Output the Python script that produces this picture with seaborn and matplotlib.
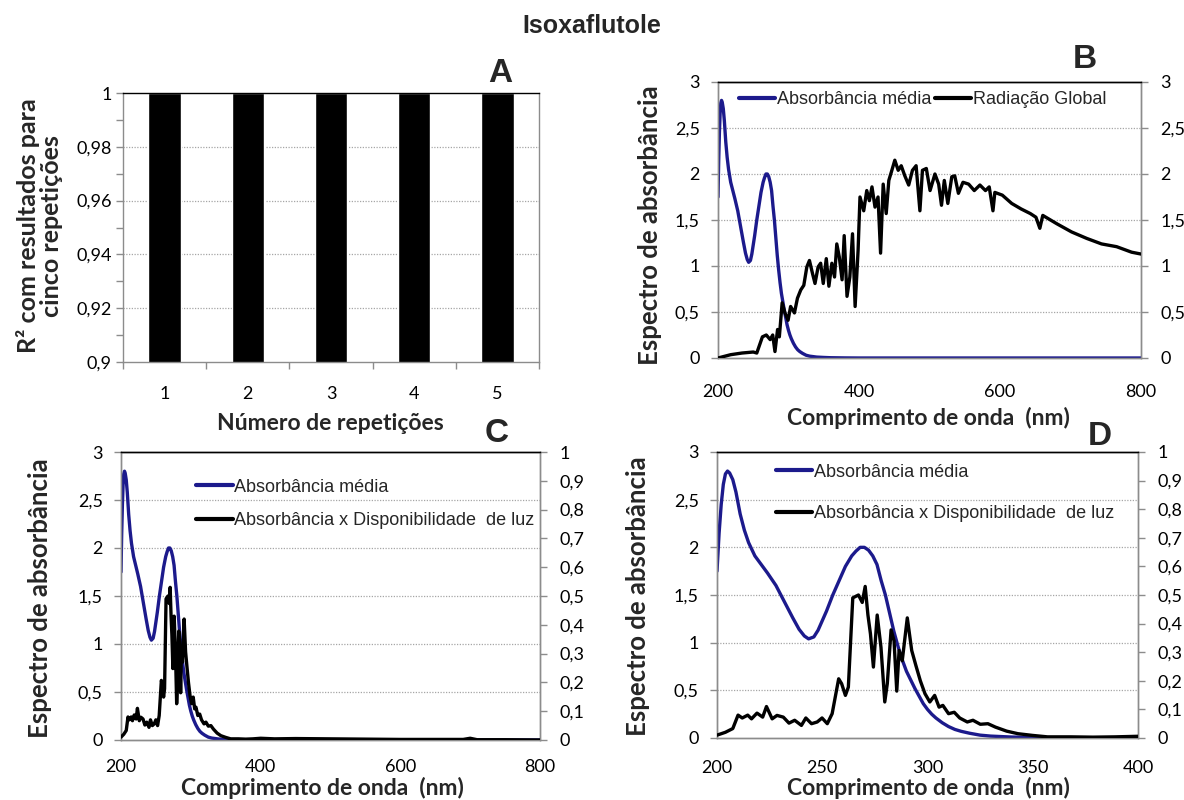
import numpy as np
import pandas as pd
import matplotlib
matplotlib.use("Agg")
import matplotlib.pyplot as plt
from matplotlib.ticker import FixedLocator, FuncFormatter, MultipleLocator
from matplotlib.lines import Line2D
import seaborn as sns

# ---------------- data ----------------
repeticoes = ["1", "2", "3", "4", "5"]
r2_valores = [1.0, 1.0, 1.0, 1.0, 1.0]

# mean absorbance spectrum (nm, absorbance)
abs_nm = [200, 201, 202, 203, 204, 205, 206, 207.5, 209, 211,
          213, 215, 218, 221, 224, 228, 232, 236, 239, 241.5,
          243.5, 246, 248, 250, 252, 255, 258, 261, 264, 266,
          268, 270, 272, 274, 276, 278, 280, 282, 284, 286,
          288, 290, 292, 294, 296, 298, 300, 302, 304, 307,
          310, 313, 316, 320, 325, 330, 340, 350, 360, 380,
          400, 500, 600, 700, 800]
abs_media = [1.75, 2.15, 2.45, 2.66, 2.77, 2.80, 2.78, 2.71, 2.58, 2.35,
             2.18, 2.05, 1.91, 1.82, 1.73, 1.60, 1.43, 1.26, 1.14, 1.07,
             1.04, 1.06, 1.13, 1.23, 1.33, 1.50, 1.65, 1.80, 1.91, 1.96,
             2.00, 2.00, 1.97, 1.91, 1.82, 1.65, 1.50, 1.31, 1.12, 0.96,
             0.82, 0.70, 0.61, 0.52, 0.44, 0.36, 0.30, 0.25, 0.21, 0.16,
             0.12, 0.09, 0.07, 0.05, 0.03, 0.02, 0.01, 0.006, 0.003, 0.001,
             0.0, 0.0, 0.0, 0.0, 0.0]

# global solar radiation (nm, relative irradiance)
rad_nm = [200, 218, 234, 250, 255, 263, 268.5, 274, 277.6, 280.8,
          284.5, 287, 291, 295, 299.4, 303, 308.4, 312.7, 317.4, 321.7,
          326, 329.7, 334, 337.6, 342, 345.6, 349.3, 353.6, 357.3, 361.5,
          365.3, 368.5, 372, 376, 379, 383, 387, 390.8, 394.5, 398.7,
          401.4, 406.7, 411, 414.7, 418.4, 422.7, 427, 430.6, 434.3, 438.6,
          442.3, 446.6, 450.8, 455.6, 459.9, 465, 470.5, 475.8, 481, 486.4,
          490, 495.5, 500.8, 507.7, 513, 517, 521, 526, 531.6, 535.8,
          541, 547.5, 555.5, 563.5, 571.5, 579.4, 584.7, 590, 592.7, 603.3,
          616.6, 630, 643, 651, 656.5, 660.7, 680.4, 701.6, 723, 744,
          765.4, 786.7, 800]
rad_global = [0.0, 0.036, 0.054, 0.065, 0.054, 0.23, 0.25, 0.20, 0.25, 0.07,
              0.31, 0.23, 0.60, 0.49, 0.41, 0.56, 0.49, 0.65, 0.74, 0.79,
              0.99, 1.06, 0.92, 0.81, 0.99, 1.03, 0.81, 1.08, 0.78, 1.03,
              0.88, 1.24, 1.10, 0.85, 1.33, 0.67, 0.88, 1.35, 0.56, 1.17,
              1.75, 1.60, 1.82, 1.71, 1.86, 1.64, 1.75, 1.14, 1.89, 1.57,
              1.93, 2.04, 2.15, 2.04, 2.09, 1.98, 1.88, 2.04, 2.09, 1.60,
              2.04, 2.06, 1.82, 2.00, 1.89, 1.66, 1.93, 1.68, 1.97, 1.98,
              1.79, 1.91, 1.89, 1.82, 1.88, 1.82, 1.86, 1.60, 1.80, 1.77,
              1.68, 1.62, 1.57, 1.53, 1.41, 1.55, 1.46, 1.37, 1.30, 1.24,
              1.21, 1.15, 1.13]

# absorbance weighted by light availability (nm, relative value)
prod_nm = [200, 204, 207.5, 210, 212, 214.6, 216.4, 219, 221.7, 223.5,
           226.2, 228.5, 231.5, 234.2, 236.9, 240.1, 242.2, 244.9, 247.6, 249.9,
           252.4, 254.7, 257.8, 259.2, 261, 262.4, 264.5, 267.2, 269, 270.4,
           271.7, 272.9, 274.3, 276.1, 277.9, 279.7, 280.9, 282.7, 284.1, 285.4,
           286.5, 288, 290.4, 292.5, 294.5, 296.6, 298.8, 301.1, 303.4, 305.5,
           307.3, 310, 312.7, 315.3, 318.9, 321.6, 325.1, 328.7, 332.3, 337.6,
           343, 350, 357, 368, 378.6, 389, 400, 420, 450, 500,
           550, 600, 650, 690, 700, 710, 750, 800]
prod_luz = [0.010, 0.020, 0.033, 0.080, 0.070, 0.080, 0.067, 0.087, 0.073, 0.110,
            0.067, 0.079, 0.073, 0.052, 0.062, 0.044, 0.070, 0.050, 0.056, 0.070,
            0.050, 0.085, 0.207, 0.190, 0.149, 0.178, 0.490, 0.500, 0.474, 0.530,
            0.430, 0.364, 0.248, 0.430, 0.317, 0.126, 0.190, 0.378, 0.340, 0.164,
            0.306, 0.270, 0.420, 0.306, 0.253, 0.200, 0.155, 0.126, 0.149, 0.108,
            0.114, 0.085, 0.090, 0.070, 0.056, 0.062, 0.048, 0.050, 0.038, 0.024,
            0.015, 0.009, 0.004, 0.004, 0.003, 0.004, 0.006, 0.004, 0.005, 0.004,
            0.003, 0.002, 0.002, 0.002, 0.006, 0.001, 0.001, 0.0]

df_abs = pd.DataFrame({"nm": abs_nm, "valor": abs_media})
df_rad = pd.DataFrame({"nm": rad_nm, "valor": rad_global})
df_prod = pd.DataFrame({"nm": prod_nm, "valor": prod_luz})
df_bar = pd.DataFrame({"rep": repeticoes, "r2": r2_valores})

# ---------------- style ----------------
sns.set_theme(style="white")
plt.rcParams["font.family"] = ["Lato", "DejaVu Sans"]
plt.rcParams["axes.unicode_minus"] = False

TITLE_FONT = ["Liberation Sans", "DejaVu Sans"]

AZUL = "#1c1a8c"
CINZA = "#8c8c8c"
TICK_FS = 13
XLABEL_FS = 16.5
YLABEL_FS = 18.5
LEG_FONT = {"family": ["Liberation Sans", "DejaVu Sans"], "size": 13}

W, H = 1184, 800
fig = plt.figure(figsize=(W / 100, H / 100), dpi=100)


def rect(left, top, right, bottom):
    return [left / W, 1 - bottom / H, (right - left) / W, (bottom - top) / H]


def virgula(v, _pos=None):
    return f"{v:g}".replace(".", ",")


def estilo(ax):
    for s in ("left", "bottom", "right"):
        ax.spines[s].set_color(CINZA)
        ax.spines[s].set_linewidth(1.0)
    ax.spines["top"].set_color("black")
    ax.spines["top"].set_linewidth(1.0)
    ax.tick_params(which="both", direction="out", length=5, width=1,
                   color=CINZA, labelsize=TICK_FS, labelcolor="black")


def grade(ax, vals):
    for v in vals:
        ax.axhline(v, color="#a6a6a6", lw=0.9, ls=(0, (1, 1.2)), zorder=0.5)


# ---------------- panel A ----------------
axA = fig.add_axes(rect(123, 93, 539, 362))
sns.barplot(data=df_bar, x="rep", y="r2", color="black", width=0.39,
            saturation=1, ax=axA, zorder=2)
axA.set_ylim(0.9, 1.0)
axA.set_xlim(-0.5, 4.5)
estilo(axA)
axA.yaxis.set_major_locator(FixedLocator([0.90, 0.92, 0.94, 0.96, 0.98, 1.0]))
axA.yaxis.set_minor_locator(FixedLocator([0.91, 0.93, 0.95, 0.97, 0.99]))
axA.yaxis.set_major_formatter(FuncFormatter(lambda v, p: virgula(round(v, 2))))
axA.tick_params(axis="y", which="both", left=True, pad=3)
axA.xaxis.set_major_locator(FixedLocator([-0.5, 0.5, 1.5, 2.5, 3.5, 4.5]))
axA.xaxis.set_major_formatter(FuncFormatter(lambda v, p: ""))
axA.xaxis.set_minor_locator(FixedLocator(range(len(repeticoes))))
axA.xaxis.set_minor_formatter(FuncFormatter(lambda v, p: repeticoes[int(round(v))]))
axA.tick_params(axis="x", which="major", bottom=True, length=5)
axA.tick_params(axis="x", which="minor", bottom=True, length=0, pad=17)
axA.set_xlabel("")
axA.set_ylabel("")
grade(axA, [0.92, 0.94, 0.96, 0.98])

# ---------------- spectrum panels ----------------
def espectro(r, xmax, xstep, right_max, right_step, serie2, leg_anchor, leg_ncol,
             leg_spacing, rot2, xpad):
    ax = fig.add_axes(r)
    sns.lineplot(data=df_abs, x="nm", y="valor", color=AZUL, lw=2.4,
                 estimator=None, sort=False, ax=ax, zorder=3)
    ax.set_xlim(200, xmax)
    ax.set_ylim(0, 3)
    estilo(ax)
    ax.xaxis.set_major_locator(MultipleLocator(xstep))
    ax.yaxis.set_major_locator(MultipleLocator(0.5))
    ax.yaxis.set_major_formatter(FuncFormatter(virgula))
    ax.xaxis.set_major_formatter(FuncFormatter(virgula))
    ax.tick_params(axis="x", pad=xpad)
    ax.tick_params(axis="y", pad=8)
    ax.set_xlabel("")
    ax.set_ylabel("")
    grade(ax, [0.5, 1, 1.5, 2, 2.5])

    ax2 = ax.twinx()
    sns.lineplot(data=serie2, x="nm", y="valor", color="black", lw=2.4,
                 estimator=None, sort=False, ax=ax2, zorder=3)
    ax2.set_ylim(0, right_max)
    ax2.set_xlim(200, xmax)
    estilo(ax2)
    ax2.yaxis.set_major_locator(MultipleLocator(right_step))
    ax2.yaxis.set_major_formatter(FuncFormatter(lambda v, p: virgula(round(v, 2))))
    ax2.tick_params(axis="y", pad=9)
    ax2.set_ylabel("")
    ax2.set_xlabel("")

    handles = [Line2D([], [], color=AZUL, lw=3),
               Line2D([], [], color="black", lw=3)]
    labels = ["Absorbância média", rot2]
    ax2.legend(handles, labels, loc="center left", bbox_to_anchor=leg_anchor,
               ncol=leg_ncol, frameon=False, prop=LEG_FONT, handlelength=2.0,
               handletextpad=0.1, columnspacing=0.2, labelspacing=leg_spacing,
               borderpad=0, borderaxespad=0)
    return ax, ax2


espectro(rect(718, 82, 1141, 358), 800, 200, 3, 0.5, df_rad,
         (0.05, 0.935), 2, 0.5, "Radiação Global", 13.5)
espectro(rect(121, 452, 540, 740), 800, 200, 1, 0.1, df_prod,
         (0.18, 0.82), 1, 0.9, "Absorbância x Disponibilidade  de luz", 9)
espectro(rect(717, 452, 1138, 738), 400, 50, 1, 0.1, df_prod,
         (0.14, 0.857), 1, 1.35, "Absorbância x Disponibilidade  de luz", 10.5)

# ---------------- texts ----------------
def ftxt(x, y, s, **kw):
    fig.text(x / W, 1 - y / H, s, **kw)


ftxt(592, 26, "Isoxaflutole", ha="center", va="center", fontsize=18,
     fontweight="bold", family=TITLE_FONT)
for letra, (x, y) in {"A": (500, 73), "B": (1085, 60),
                      "C": (497, 433), "D": (1100, 436)}.items():
    ftxt(x, y, letra, ha="center", va="center", fontsize=24,
         fontweight="bold", family=TITLE_FONT)

ftxt(330, 423, "Número de repetições", ha="center", va="center",
     fontsize=XLABEL_FS, fontweight="bold")
ftxt(40, 226, "R² com resultados para\ncinco repetições", ha="center",
     va="center", rotation=90, fontsize=YLABEL_FS - 0.5, fontweight="bold",
     linespacing=1.0, multialignment="center")
ftxt(928, 418, "Comprimento de onda  (nm)", ha="center", va="center",
     fontsize=XLABEL_FS, fontweight="bold")
ftxt(322, 788, "Comprimento de onda  (nm)", ha="center", va="center",
     fontsize=XLABEL_FS, fontweight="bold")
ftxt(928, 788, "Comprimento de onda  (nm)", ha="center", va="center",
     fontsize=XLABEL_FS, fontweight="bold")
for x, y in [(650, 225), (40, 598), (638, 596)]:
    ftxt(x, y, "Espectro de absorbância", ha="center", va="center",
         rotation=90, fontsize=YLABEL_FS, fontweight="bold")

fig.savefig("out.png", dpi=100)
